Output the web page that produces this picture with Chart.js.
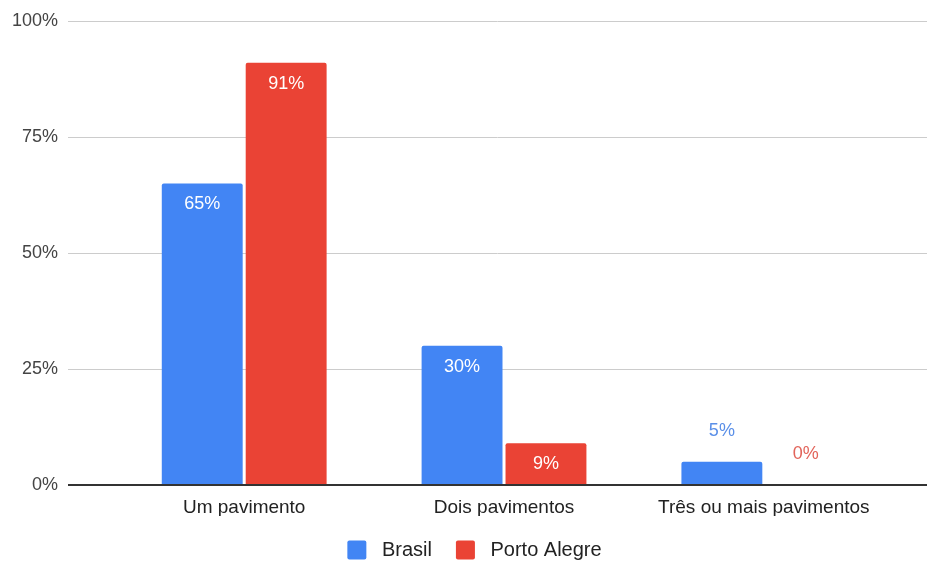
<!DOCTYPE html>
<html>
<head>
<meta charset="utf-8">
<script src="https://cdn.jsdelivr.net/npm/chart.js@4.4.1/dist/chart.umd.min.js"></script>
<style>
  html, body { margin: 0; padding: 0; background: #fff; overflow: hidden; }
  #wrap { width: 927px; height: 561px; position: relative; }
</style>
</head>
<body>
<div id="wrap"><canvas id="pavChart"></canvas></div>
<script>
const categories = ['Um pavimento', 'Dois pavimentos', 'Três ou mais pavimentos'];
const brasil = [65, 30, 5];
const portoAlegre = [91, 9, 0];
const yTicks = [0, 25, 50, 75, 100];

const FONT = "'Liberation Sans', Arial, sans-serif";
const BLUE = '#4285F4';
const RED = '#EA4335';

// bar values written at the top of each bar: inside in white, above it when the bar is short
const valueLabels = {
  id: 'valueLabels',
  afterDatasetsDraw(chart) {
    const ctx = chart.ctx;
    ctx.save();
    ctx.font = '18px ' + FONT;
    ctx.textAlign = 'center';
    ctx.textBaseline = 'middle';
    chart.data.datasets.forEach((ds, di) => {
      const meta = chart.getDatasetMeta(di);
      meta.data.forEach((bar, i) => {
        const v = ds.data[i].y;
        const txt = v + '%';
        if (bar.base - bar.y >= 30) {
          ctx.fillStyle = '#ffffff';
          ctx.fillText(txt, bar.x, bar.y + 21);
        } else {
          ctx.fillStyle = ds.labelColor;
          ctx.fillText(txt, bar.x, bar.y - 31);
        }
      });
    });
    ctx.restore();
  }
};

const toPoints = arr => arr.map((v, i) => ({ x: i, y: v }));

const chart = new Chart(document.getElementById('pavChart'), {
  type: 'bar',
  data: {
    datasets: [
      { label: 'Brasil', data: toPoints(brasil), backgroundColor: BLUE, labelColor: '#5a8fe8',
        borderRadius: { topLeft: 2, topRight: 2 }, borderSkipped: 'bottom' },
      { label: 'Porto Alegre', data: toPoints(portoAlegre), backgroundColor: RED, labelColor: '#e2645a',
        borderRadius: { topLeft: 2, topRight: 2 }, borderSkipped: 'bottom' }
    ]
  },
  options: {
    responsive: true,
    maintainAspectRatio: false,
    animation: false,
    categoryPercentage: 0.646,
    barPercentage: 0.964,
    // negative right padding nudges the centred legend to the right
    layout: { padding: { left: 2, right: -20, top: 21, bottom: -9 } },
    plugins: {
      tooltip: { enabled: false },
      legend: {
        position: 'bottom',
        labels: {
          font: { family: FONT, size: 20 },
          color: '#222',
          boxWidth: 19,
          boxHeight: 19,
          padding: 24,
          useBorderRadius: true,
          borderRadius: 2,
          // a bit more room between the swatch and its name
          generateLabels: c => Chart.defaults.plugins.legend.labels.generateLabels(c)
            .map(l => ({ ...l, text: ' ' + l.text }))
        }
      }
    },
    scales: {
      x: {
        type: 'linear',
        min: -0.678,
        max: 2.628,
        offset: false,
        grid: { display: false, drawTicks: false },
        border: { display: false },
        afterBuildTicks: scale => { scale.ticks = categories.map((c, i) => ({ value: i })); },
        afterFit: scale => { scale.height = 31; },
        ticks: {
          autoSkip: false,
          maxRotation: 0,
          padding: 11,
          color: '#222',
          font: { family: FONT, size: 19 },
          callback: v => categories[v]
        }
      },
      y: {
        min: 0,
        max: 100,
        afterBuildTicks: scale => { scale.ticks = yTicks.map(v => ({ value: v })); },
        border: { display: false },
        grid: {
          drawTicks: false,
          color: c => c.tick.value === 0 ? '#333' : '#cccccc',
          lineWidth: c => c.tick.value === 0 ? 2 : 1
        },
        ticks: {
          padding: 10,
          color: '#444',
          font: { family: FONT, size: 18 },
          callback: v => v + '%'
        }
      }
    }
  },
  plugins: [valueLabels]
});
</script>
</body>
</html>
